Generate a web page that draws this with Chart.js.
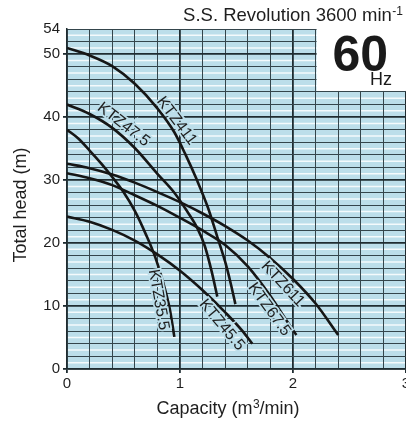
<!DOCTYPE html>
<html>
<head>
<meta charset="utf-8">
<script src="https://cdn.jsdelivr.net/npm/chart.js@4.4.1/dist/chart.umd.min.js"></script>
<style>
  html, body { margin: 0; padding: 0; background: #fff; }
  #contenedor { width: 406px; height: 421px; }
</style>
</head>
<body>
<div id="contenedor"><canvas id="grafica-curvas"></canvas></div>
<script>
// --- Datos (caudal m3/min, altura m) ---
const modelos = ['KTZ411', 'KTZ47.5', 'KTZ35.5', 'KTZ45.5', 'KTZ67.5', 'KTZ611'];

const caudalKTZ411 = [0, 0.2, 0.4, 0.6, 0.8, 0.95, 1.05, 1.15, 1.25, 1.33, 1.4, 1.45, 1.49];
const alturaKTZ411 = [51, 49.8, 48.1, 45.3, 41.4, 37.6, 34, 30, 25.5, 21, 17, 13.5, 10.3];

const caudalKTZ475 = [0, 0.2, 0.4, 0.6, 0.8, 0.95, 1.05, 1.15, 1.22, 1.28, 1.33];
const alturaKTZ475 = [42, 40.5, 38.3, 35.1, 31, 28, 25.4, 22.5, 19.5, 15.5, 11.5];

const caudalKTZ355 = [0, 0.1, 0.2, 0.3, 0.4, 0.5, 0.6, 0.7, 0.78, 0.85, 0.91, 0.95];
const alturaKTZ355 = [38, 36.6, 34.7, 32.7, 30.5, 28.1, 25.1, 21.3, 17.8, 13.8, 9.5, 5.1];

const caudalKTZ455 = [0, 0.2, 0.4, 0.6, 0.8, 1.0, 1.2, 1.4, 1.55, 1.64];
const alturaKTZ455 = [24.2, 23.4, 22.1, 20.4, 18.2, 15.6, 12.5, 9.0, 6.1, 4.0];

const caudalKTZ675 = [0, 0.2, 0.4, 0.6, 0.8, 1.0, 1.2, 1.4, 1.6, 1.8, 1.95, 2.03];
const alturaKTZ675 = [31.1, 30.3, 29.2, 27.6, 25.9, 24.0, 22.0, 19.7, 16.3, 11.6, 7.5, 5.4];

const caudalKTZ611 = [0, 0.2, 0.4, 0.6, 0.8, 1.0, 1.2, 1.4, 1.6, 1.8, 2.0, 2.2, 2.4];
const alturaKTZ611 = [32.6, 31.9, 30.9, 29.6, 28.1, 26.5, 24.7, 22.7, 20.4, 17.6, 14.3, 10.4, 5.4];

const ticksX = [0, 1, 2, 3];
const ticksY = [0, 10, 20, 30, 40, 50, 54];

// --- Colores y fuentes ---
const fuente = "'Liberation Sans', Arial, Helvetica, sans-serif";
const colorTexto = '#1e1e1e';
const colorLinea = '#161616';
const colorRejilla = '#34454c';
const colorMayor = '#1f2c31';
const colorFondo = '#bcdeea';

const curvas = [
    [caudalKTZ411, alturaKTZ411],
    [caudalKTZ475, alturaKTZ475],
    [caudalKTZ355, alturaKTZ355],
    [caudalKTZ455, alturaKTZ455],
    [caudalKTZ675, alturaKTZ675],
    [caudalKTZ611, alturaKTZ611]
];

const datasets = curvas.map((c, i) => ({
    label: modelos[i],
    data: c[0].map((q, j) => ({ x: q, y: c[1][j] })),
    showLine: true,
    borderColor: colorLinea,
    borderWidth: 2.6,
    pointRadius: 0,
    cubicInterpolationMode: 'monotone',
    fill: false
}));

// etiquetas de cada curva (posicion en unidades de datos, angulo en grados)
const etiquetasCurvas = [
    { texto: 'KTZ411', x: 0.97, y: 39.4, ang: 53 },
    { texto: 'KTZ47.5', x: 0.50, y: 38.8, ang: 38 },
    { texto: 'KTZ35.5', x: 0.81, y: 11.0, ang: 80 },
    { texto: 'KTZ45.5', x: 1.37, y: 7.0, ang: 50 },
    { texto: 'KTZ67.5', x: 1.79, y: 9.45, ang: 54 },
    { texto: 'KTZ611', x: 1.91, y: 13.5, ang: 47 }
];

const esEntero = v => Math.abs(v - Math.round(v)) < 1e-6;

// texto con superindice (se dibuja a partir de x hacia la derecha)
function textoConSuper(ctx, base, sup, x, y, tam, tamSup, subida) {
    ctx.font = tam + 'px ' + fuente;
    const w = ctx.measureText(base).width;
    ctx.fillText(base, x, y);
    ctx.font = tamSup + 'px ' + fuente;
    ctx.fillText(sup, x + w + 0.5, y - subida);
    return w + 0.5 + ctx.measureText(sup).width;
}

// Fondo azul, caja "60 Hz", etiquetas y titulos
const pluginFondo = {
    id: 'fondo',
    beforeDraw(chart) {
        const { ctx, chartArea: a, scales } = chart;
        ctx.save();
        ctx.fillStyle = '#fff';
        ctx.fillRect(0, 0, chart.width, chart.height);
        ctx.fillStyle = colorFondo;
        ctx.fillRect(a.left, a.top, a.right - a.left, a.bottom - a.top);
        ctx.strokeStyle = '#f4fafc';
        ctx.lineWidth = 1.5;
        for (let v = 1; v < 54; v += 2) {
            const y = scales.y.getPixelForValue(v);
            ctx.beginPath();
            ctx.moveTo(a.left, y);
            ctx.lineTo(a.right, y);
            ctx.stroke();
        }
        ctx.restore();
    },
    beforeDatasetsDraw(chart) {
        const { ctx, scales } = chart;
        const x0 = scales.x.getPixelForValue(2.2) + 1;
        const x1 = scales.x.getPixelForValue(3) + 2;
        const y0 = scales.y.getPixelForValue(54) - 1;
        const y1 = scales.y.getPixelForValue(44) - 1;
        ctx.save();
        ctx.fillStyle = '#fff';
        ctx.fillRect(x0, y0, x1 - x0, y1 - y0);
        ctx.fillStyle = '#1a1a1a';
        ctx.textBaseline = 'alphabetic';
        ctx.textAlign = 'center';
        ctx.font = 'bold 50px ' + fuente;
        ctx.fillText('60', (x0 + x1) / 2 - 2, y0 + 43);
        ctx.textAlign = 'right';
        ctx.font = '18px ' + fuente;
        ctx.fillText('Hz', x1 - 16, y0 + 57);
        ctx.restore();
    },
    afterDatasetsDraw(chart) {
        const { ctx, scales } = chart;
        ctx.save();
        ctx.font = '16px ' + fuente;
        ctx.textAlign = 'center';
        ctx.textBaseline = 'middle';
        etiquetasCurvas.forEach(e => {
            const px = scales.x.getPixelForValue(e.x);
            const py = scales.y.getPixelForValue(e.y);
            ctx.save();
            ctx.translate(px, py);
            ctx.rotate(e.ang * Math.PI / 180);
            ctx.lineWidth = 3.5;
            ctx.strokeStyle = colorFondo;
            ctx.strokeText(e.texto, 0, 0);
            ctx.fillStyle = colorTexto;
            ctx.fillText(e.texto, 0, 0);
            ctx.restore();
        });
        ctx.restore();
    },
    afterDraw(chart) {
        const { ctx } = chart;
        ctx.save();
        ctx.fillStyle = colorTexto;
        ctx.textBaseline = 'alphabetic';
        ctx.textAlign = 'left';

        // titulo superior
        ctx.font = '18.5px ' + fuente;
        const wBase = ctx.measureText('S.S. Revolution 3600 min').width;
        ctx.font = '12px ' + fuente;
        const wSup = ctx.measureText('-1').width;
        textoConSuper(ctx, 'S.S. Revolution 3600 min', '-1', 403 - wBase - wSup - 0.5, 21, 18.5, 12, 6);

        // titulo eje x: Capacity (m3/min)
        ctx.font = '18px ' + fuente;
        const w1 = ctx.measureText('Capacity (m').width;
        ctx.font = '12px ' + fuente;
        const w2 = ctx.measureText('3').width;
        ctx.font = '18px ' + fuente;
        const w3 = ctx.measureText('/min)').width;
        let x = 228 - (w1 + w2 + w3 + 0.5) / 2;
        x += textoConSuper(ctx, 'Capacity (m', '3', x, 414, 18, 12, 6);
        ctx.font = '18px ' + fuente;
        ctx.fillText('/min)', x, 414);

        // titulo eje y
        ctx.translate(21, 205);
        ctx.rotate(-Math.PI / 2);
        ctx.textAlign = 'center';
        ctx.textBaseline = 'middle';
        ctx.font = '18px ' + fuente;
        ctx.fillText('Total head (m)', 0, 0);
        ctx.restore();
    }
};

const rejilla = (mayor) => ({
    color: ctx => (mayor(ctx.tick.value) ? colorMayor : colorRejilla),
    lineWidth: ctx => (mayor(ctx.tick.value) ? 1.8 : 1),
    tickColor: ctx => (mayor(ctx.tick.value) ? colorMayor : 'rgba(0,0,0,0)'),
    tickLength: 4,
    z: -1
});

new Chart(document.getElementById('grafica-curvas'), {
    type: 'scatter',
    data: { datasets },
    plugins: [pluginFondo],
    options: {
        responsive: true,
        maintainAspectRatio: false,
        animation: false,
        layout: { padding: { top: 29, left: 0, right: 0, bottom: 0 } },
        plugins: {
            legend: { display: false },
            tooltip: { enabled: false }
        },
        scales: {
            x: {
                type: 'linear',
                min: 0,
                max: 3,
                grid: rejilla(v => esEntero(v)),
                border: { display: true, color: colorMayor, width: 1.5 },
                ticks: {
                    stepSize: 0.2,
                    autoSkip: false,
                    maxRotation: 0,
                    padding: 2,
                    color: colorTexto,
                    font: { family: fuente, size: 15 },
                    callback: v => (esEntero(v) && ticksX.includes(Math.round(v)) ? String(Math.round(v)) : '')
                },
                title: { display: false },
                afterFit(scale) {
                    scale.height = 52;
                    scale.paddingLeft = 0;
                    scale.paddingRight = 0;
                }
            },
            y: {
                type: 'linear',
                min: 0,
                max: 54,
                grid: rejilla(v => v % 10 === 0),
                border: { display: true, color: colorMayor, width: 1.5 },
                ticks: {
                    stepSize: 2,
                    autoSkip: false,
                    padding: 3,
                    color: colorTexto,
                    font: { family: fuente, size: 15 },
                    callback: v => (ticksY.includes(v) ? String(v) : '')
                },
                title: { display: false },
                afterFit(scale) {
                    scale.width = 67;
                    scale.paddingTop = 0;
                    scale.paddingBottom = 0;
                }
            }
        }
    }
});
</script>
</body>
</html>
